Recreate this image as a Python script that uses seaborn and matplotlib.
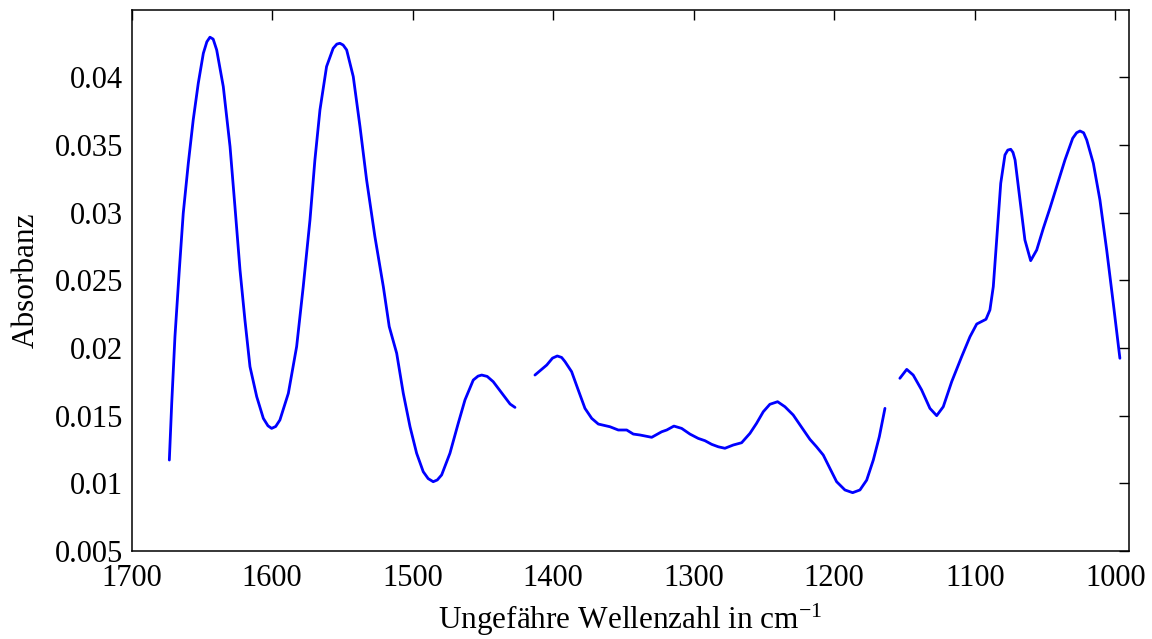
import numpy as np
import pandas as pd
import matplotlib
matplotlib.use("Agg")
import matplotlib.pyplot as plt
import seaborn as sns
from matplotlib.ticker import FixedLocator, FuncFormatter

# ---- data ----
seg1_wn = [1673.2, 1671.5, 1669.2, 1666.1, 1663.3, 1659.7, 1656.2, 1652.6, 1649.0, 1646.5,
           1644.3, 1642.0, 1639.5, 1634.8, 1630.0, 1626.5, 1622.9, 1619.4, 1615.8, 1611.0,
           1606.3, 1603.0, 1600.4, 1597.5, 1594.5, 1588.5, 1582.6, 1577.9, 1573.1, 1569.6,
           1566.0, 1561.3, 1556.6, 1554.0, 1551.8, 1549.5, 1547.0, 1542.3, 1537.5, 1532.8,
           1526.9, 1520.9, 1516.7, 1511.4, 1506.7, 1501.9, 1497.2, 1492.5, 1489.0, 1485.4,
           1482.5, 1479.4, 1473.5, 1467.6, 1462.8, 1456.9, 1453.5, 1450.9, 1447.0, 1442.7,
           1435.5, 1430.7, 1427.2]
seg1_abs = [0.01172, 0.01591, 0.02084, 0.02576, 0.02995, 0.03364, 0.03685, 0.03956, 0.04177, 0.04262,
            0.04296, 0.04282, 0.04202, 0.03931, 0.03488, 0.03044, 0.02576, 0.02207, 0.01862, 0.01640,
            0.01480, 0.01425, 0.01406, 0.01420, 0.01468, 0.01665, 0.02010, 0.02453, 0.02946, 0.03389,
            0.03759, 0.04079, 0.04214, 0.04245, 0.04251, 0.04238, 0.04202, 0.04005, 0.03635, 0.03241,
            0.02823, 0.02453, 0.02158, 0.01961, 0.01665, 0.01418, 0.01222, 0.01086, 0.01035, 0.01012,
            0.01025, 0.01062, 0.01222, 0.01443, 0.01616, 0.01763, 0.01792, 0.01800, 0.01790, 0.01751,
            0.01652, 0.01586, 0.01561]

seg2_wn = [1413.0, 1404.6, 1400.5, 1397.1, 1394.0, 1391.6, 1386.9, 1382.2, 1377.4, 1372.6,
           1367.9, 1359.6, 1353.7, 1347.7, 1343.0, 1338.2, 1329.9, 1322.8, 1319.2, 1314.1,
           1308.6, 1302.7, 1296.8, 1292.0, 1287.2, 1282.5, 1277.8, 1271.9, 1265.9, 1260.0,
           1255.3, 1250.5, 1245.8, 1240.3, 1235.1, 1229.2, 1223.2, 1217.3, 1212.6, 1207.8,
           1203.1, 1198.3, 1192.4, 1186.9, 1181.7, 1176.9, 1172.2, 1167.9, 1163.9]
seg2_abs = [0.01800, 0.01874, 0.01925, 0.01941, 0.01930, 0.01899, 0.01825, 0.01690, 0.01554, 0.01480,
            0.01438, 0.01418, 0.01394, 0.01394, 0.01364, 0.01357, 0.01340, 0.01381, 0.01394, 0.01423,
            0.01406, 0.01364, 0.01332, 0.01315, 0.01288, 0.01270, 0.01259, 0.01283, 0.01300, 0.01369,
            0.01443, 0.01529, 0.01584, 0.01603, 0.01566, 0.01505, 0.01414, 0.01325, 0.01270, 0.01209,
            0.01111, 0.01012, 0.00951, 0.00931, 0.00951, 0.01024, 0.01172, 0.01345, 0.01554]

seg3_wn = [1153.3, 1148.4, 1143.8, 1137.8, 1131.9, 1127.1, 1122.4, 1116.4, 1109.3, 1103.4,
           1098.6, 1092.0, 1089.2, 1086.8, 1084.4, 1081.5, 1078.5, 1076.5, 1074.4, 1072.8,
           1071.3, 1067.8, 1064.3, 1060.2, 1055.9, 1051.2, 1046.5, 1041.7, 1035.8, 1030.3,
           1027.5, 1025.1, 1022.5, 1020.3, 1015.6, 1010.9, 1006.1, 1001.4, 996.7]
seg3_abs = [0.01776, 0.01842, 0.01800, 0.01690, 0.01554, 0.01500, 0.01566, 0.01751, 0.01936, 0.02083,
            0.02177, 0.02212, 0.02281, 0.02453, 0.02798, 0.03217, 0.03426, 0.03462, 0.03468, 0.03445,
            0.03389, 0.03093, 0.02798, 0.02645, 0.02724, 0.02884, 0.03032, 0.03192, 0.03389, 0.03549,
            0.03590, 0.03603, 0.03590, 0.03537, 0.03364, 0.03093, 0.02724, 0.02330, 0.01924]

x_ticks = [1700, 1600, 1500, 1400, 1300, 1200, 1100, 1000]
y_ticks = [0.005, 0.01, 0.015, 0.02, 0.025, 0.03, 0.035, 0.04]

df = pd.concat([
    pd.DataFrame({"wn": seg1_wn, "a": seg1_abs, "seg": 1}),
    pd.DataFrame({"wn": seg2_wn, "a": seg2_abs, "seg": 2}),
    pd.DataFrame({"wn": seg3_wn, "a": seg3_abs, "seg": 3}),
], ignore_index=True)

# ---- style ----
sns.set_theme(style="white")
plt.rcParams.update({
    "font.family": ["Liberation Serif", "DejaVu Serif"],
    "mathtext.fontset": "custom",
    "mathtext.rm": "Liberation Serif",
    "mathtext.it": "Liberation Serif:italic",
    "mathtext.bf": "Liberation Serif:bold",
    "text.color": "black",
    "axes.labelcolor": "black",
    "xtick.color": "black",
    "ytick.color": "black",
    "xtick.direction": "in",
    "ytick.direction": "in",
    "xtick.top": True,
    "ytick.right": True,
    "axes.edgecolor": "black",
    "axes.linewidth": 1.1,
})

fig = plt.figure(figsize=(11.52, 6.39), dpi=100)
ax = fig.add_axes([0.1143, 0.1377, 0.866, 0.8473])

sns.lineplot(data=df, x="wn", y="a", units="seg", estimator=None, sort=False,
             color="#0000ff", linewidth=2.0, ax=ax, legend=False)

ax.set_xlim(1700, 990)
ax.set_ylim(0.005, 0.045)
ax.xaxis.set_major_locator(FixedLocator(x_ticks))
ax.yaxis.set_major_locator(FixedLocator(y_ticks))
ax.yaxis.set_major_formatter(FuncFormatter(lambda v, p: f"{v:g}"))
ax.xaxis.set_major_formatter(FuncFormatter(lambda v, p: f"{v:g}"))
ax.tick_params(axis="both", which="major", direction="in", length=7, width=1.0,
               labelsize=22, colors="black", top=True, right=True)
ax.tick_params(axis="x", pad=9)
ax.tick_params(axis="y", pad=6)
for s in ax.spines.values():
    s.set_visible(True)
    s.set_color("black")
    s.set_linewidth(1.1)

ax.set_xlabel("Ungefähre Wellenzahl in cm$^{-1}$", fontsize=22.5, labelpad=7, color="black")
ax.set_ylabel("Absorbanz", fontsize=22.5, labelpad=10, color="black")
ax.grid(False)

fig.savefig("out.png", dpi=100)
